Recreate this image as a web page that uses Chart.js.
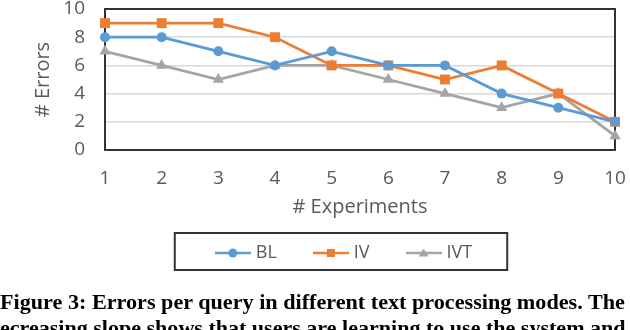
<!DOCTYPE html>
<html><head><meta charset="utf-8">
<script src="https://cdn.jsdelivr.net/npm/chart.js@4/dist/chart.umd.min.js"></script>
<style>
html,body{margin:0;padding:0;background:#fff;overflow:hidden;}
#wrap{position:relative;width:630px;height:330px;overflow:hidden;}
canvas{position:absolute;left:0;top:0;}
.cap{position:absolute;left:0;white-space:nowrap;font-family:"Liberation Serif","Times New Roman",serif;font-weight:bold;font-size:20px;line-height:24px;color:#000;transform-origin:0 0;}
</style></head>
<body><div id="wrap"><canvas id="c" width="630" height="330"></canvas>
<div class="cap" id="cap1" style="top:290px;">Figure 3: Errors per query in different text processing modes. The</div>
<div class="cap" id="cap2" style="top:316px;">ecreasing slope shows that users are learning to use the system and</div>
</div>
<script>
const experiments = ['1','2','3','4','5','6','7','8','9','10'];
const seriesNames = ['BL','IV','IVT'];
const blErrors  = [8,8,7,6,7,6,6,4,3,2];
const ivErrors  = [9,9,9,8,6,6,5,6,4,2];
const ivtErrors = [7,6,5,6,6,5,4,3,4,1];
const yTicks = [0,2,4,6,8,10];
const xTitle = '# Experiments';
const yTitle = '# Errors';

const colors = ['#5B9BD5','#ED7D31','#A5A5A5'];
const styles = ['circle','rect','triangle'];
const radii = [5,7,6.5];
const FONT = '"Open Sans", "DejaVu Sans", sans-serif';
const TXT = '#595959';

function makeIcon(color, style){
  const c = document.createElement('canvas');
  c.width = 36; c.height = 14;
  const g = c.getContext('2d');
  g.strokeStyle = color; g.lineWidth = 2.5;
  g.beginPath(); g.moveTo(0,7); g.lineTo(36,7); g.stroke();
  g.fillStyle = color;
  g.beginPath();
  if (style === 'circle') { g.arc(18,7,4.5,0,Math.PI*2); }
  else if (style === 'rect') { g.rect(14,3,8,8); }
  else { g.moveTo(18,2.5); g.lineTo(23,10.5); g.lineTo(13,10.5); g.closePath(); }
  g.fill();
  return c;
}
const icons = colors.map((c,i)=>makeIcon(c, styles[i]));

const seriesData = [blErrors, ivErrors, ivtErrors];
const datasets = seriesNames.map((n,i)=>({
  label: n,
  data: seriesData[i],
  borderColor: colors[i],
  backgroundColor: colors[i],
  pointBackgroundColor: colors[i],
  pointBorderColor: colors[i],
  pointBorderWidth: 0,
  pointStyle: styles[i],
  pointRadius: radii[i],
  borderWidth: 2.75,
  tension: 0,
  clip: false
}));

const frame = {
  id: 'frame',
  afterLayout(chart){
    const lg = chart.legend;
    if (lg) { lg.left += 38; lg.right += 38; }
  },
  beforeDatasetsDraw(chart){
    const {ctx, chartArea:a} = chart;
    ctx.save();
    ctx.strokeStyle = '#333333'; ctx.lineWidth = 2;
    ctx.strokeRect(a.left, a.top, a.right - a.left, a.bottom - a.top);
    ctx.restore();
  },
  afterDraw(chart){
    const lg = chart.legend;
    if (!lg || !lg.legendHitBoxes || !lg.legendHitBoxes.length) return;
    const hb = lg.legendHitBoxes;
    const l = hb[0].left - 44;
    const r = hb[hb.length-1].left + hb[hb.length-1].width + 35;
    const cy = hb[0].top + hb[0].height/2;
    const ctx = chart.ctx;
    ctx.save();
    ctx.strokeStyle = '#333333'; ctx.lineWidth = 2;
    ctx.strokeRect(l, cy - 20, r - l, 37);
    ctx.restore();
  }
};

new Chart(document.getElementById('c'), {
  type: 'line',
  data: { labels: experiments, datasets },
  plugins: [frame],
  options: {
    responsive: false,
    devicePixelRatio: 1,
    animation: false,
    layout: { padding: { left: 0, right: 15, top: 9, bottom: 58 } },
    plugins: {
      tooltip: { enabled: false },
      legend: {
        position: 'bottom',
        labels: {
          usePointStyle: true,
          pointStyleWidth: 28,
          padding: 40,
          color: TXT,
          font: { family: FONT, size: 18 },
          generateLabels: (chart) => chart.data.datasets.map((ds,i)=>({
            text: ds.label, pointStyle: icons[i], datasetIndex: i, hidden: false,
            lineWidth: 0, strokeStyle: 'rgba(0,0,0,0)', fillStyle: 'rgba(0,0,0,0)', fontColor: TXT
          }))
        }
      }
    },
    scales: {
      x: {
        offset: false,
        grid: { display: false, drawTicks: false },
        border: { display: false },
        ticks: { color: TXT, font: { family: FONT, size: 19 }, padding: 17, maxRotation: 0, autoSkip: false },
        title: { display: true, text: xTitle, color: TXT, font: { family: FONT, size: 20 }, padding: { top: 0, bottom: -15 } },
        afterFit(s){ s.height = 54; s.paddingLeft = 0; s.paddingRight = 0; }
      },
      y: {
        min: 0, max: 10,
        afterBuildTicks(s){ s.ticks = yTicks.map(v=>({value:v})); },
        grid: { color: '#d9d9d9', lineWidth: 1.5, drawTicks: false },
        border: { display: false },
        ticks: { color: TXT, font: { family: FONT, size: 19 }, padding: 20, autoSkip: false },
        title: { display: true, text: yTitle, color: TXT, font: { family: FONT, size: 20 }, padding: { top: 31, bottom: 0 } },
        afterFit(s){ s.width = 105; s.paddingTop = 0; s.paddingBottom = 0; }
      }
    }
  }
});

function fitCap(id, w){
  const el = document.getElementById(id);
  const nw = el.scrollWidth;
  el.style.transform = 'scaleX(' + (w / nw) + ')';
}
fitCap('cap1', 625);
fitCap('cap2', 626);
</script>
</body></html>
